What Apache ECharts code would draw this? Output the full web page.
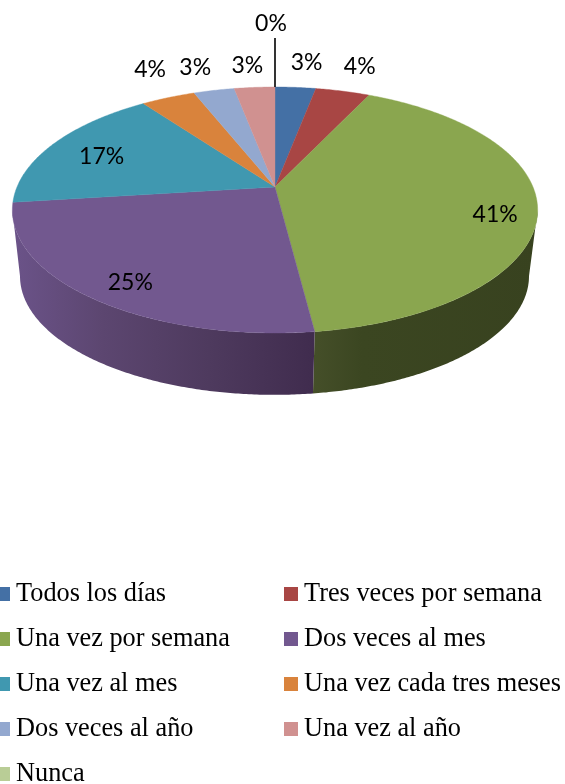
<!DOCTYPE html>
<html>
<head>
<meta charset="utf-8">
<script src="https://cdn.jsdelivr.net/npm/echarts@6/dist/echarts.min.js"></script>
<style>html,body{margin:0;padding:0;background:#fff;width:565px;height:784px;overflow:hidden}#c{width:565px;height:800px}</style>
</head>
<body>
<div id="c"></div>
<script>
// ---- data ----
const categories = ['Todos los días','Tres veces por semana','Una vez por semana','Dos veces al mes','Una vez al mes','Una vez cada tres meses','Dos veces al año','Una vez al año','Nunca'];
const percents = [3,4,41,25,17,4,3,3,0];

// ---- styling ----
const colors = ['#4470a5','#a84644','#8aa64f','#72588f','#4098b0','#d9833c','#93a8cf','#d09190','#b9cd96'];
const wallStops = {
  2:[[0,'#454f29'],[0.22,'#3b4621'],[1,'#38421f']],
  3:[[0,'#6b5389'],[0.3,'#5c4670'],[0.65,'#4e3a5e'],[1,'#402c4e']]
};
const labelRadius = [1.31,1.31,0.85,0.85,0.76,1.32,1.32,1.32,1.85];
const labelNudge = [[6,0],[0,0],[-2,11],[9,4],[-3,3],[10,-5],[-3,2],[-2,4],[-4,0]];
const leaderRadius = 1.64;

// ---- perspective model of the disc: unit circle -> screen ----
const topPlane = {cx:275, cy:187, A:258, a:118.7, c:0.187};
const basePlane = {cx:274.5, cy:254, A:250, a:114.5, c:0.187};
function project(p, deg, r){
  const t = deg*Math.PI/180, x = r*Math.sin(t), y = r*Math.cos(t), d = 1+p.c*y;
  return [p.cx + p.A*x/d, p.cy - p.a*y/d];
}
const total = percents.reduce((s,v)=>s+v,0);
const angles = []; let run = 0;
percents.forEach(v=>{ angles.push([run/total*360,(run+v)/total*360]); run+=v; });
function arc(p, a0, a1){
  const pts=[], n=Math.max(2,Math.ceil((a1-a0)*2));
  for(let i=0;i<=n;i++) pts.push(project(p,a0+(a1-a0)*i/n,1));
  return pts;
}
// wall is visible only between the disc's two silhouette tangents
const tangent = Math.acos(-topPlane.c)*180/Math.PI;
const wallFrom = tangent, wallTo = 360-tangent;

const wallSeries = {
  type:'custom', coordinateSystem:'none', silent:true, z:1, name:'_walls',
  data:percents.map((v,i)=>i),
  renderItem(params, api){
    const i = api.value(0), a0=Math.max(angles[i][0],wallFrom), a1=Math.min(angles[i][1],wallTo);
    if(a1<=a0) return null;
    const stops = (wallStops[i]||[[0,colors[i]],[1,colors[i]]]).map(s=>({offset:s[0],color:s[1]}));
    const top = arc(topPlane,a0,a1), base = arc(basePlane,a0,a1).reverse();
    return {type:'polygon', shape:{points:top.concat(base)},
      style:{fill:new echarts.graphic.LinearGradient(0,0,1,0,stops), stroke:null}};
  }
};
const sliceSeries = categories.map((name,i)=>({
  type:'custom', coordinateSystem:'none', silent:true, z:2, name,
  itemStyle:{color:colors[i]},
  data:[percents[i]],
  renderItem(){
    if(percents[i]===0) return null;
    const pts=[[topPlane.cx,topPlane.cy]].concat(arc(topPlane,angles[i][0],angles[i][1]));
    return {type:'polygon', shape:{points:pts}, style:{fill:colors[i], stroke:colors[i], lineWidth:0.4}};
  }
}));
const labelSeries = {
  type:'custom', coordinateSystem:'none', silent:true, z:3, name:'_labels',
  data:percents.map((v,i)=>i),
  renderItem(params, api){
    const i=api.value(0), mid=(angles[i][0]+angles[i][1])/2;
    const p=project(topPlane,mid,labelRadius[i]);
    const children=[{type:'text', style:{text:percents[i]+'%', x:p[0]+labelNudge[i][0], y:p[1]+labelNudge[i][1],
      align:'center', verticalAlign:'middle', fontFamily:'Lato', fontSize:23, fill:'#000'}}];
    if(percents[i]===0){
      const s=project(topPlane,mid,1), e=project(topPlane,mid,leaderRadius);
      children.push({type:'line', shape:{x1:s[0],y1:s[1],x2:e[0],y2:e[1]}, style:{stroke:'#000',lineWidth:1.6}});
    }
    return {type:'group', children};
  }
};
const legendBase = {
  orient:'vertical', top:581, padding:0, itemWidth:14, itemHeight:14, itemGap:19,
  icon:'rect', selectedMode:false,
  textStyle:{fontFamily:'Liberation Serif', fontSize:26.3, color:'#000', lineHeight:26, padding:[0,0,0,1]}
};
const chart = echarts.init(document.getElementById('c'), null, {renderer:'canvas'});
chart.setOption({
  animation:false,
  backgroundColor:'#fff',
  color:colors,
  legend:[
    Object.assign({left:-4, data:categories.filter((c,i)=>i%2===0)}, legendBase),
    Object.assign({left:284, data:categories.filter((c,i)=>i%2===1)}, legendBase)
  ],
  series:[wallSeries].concat(sliceSeries,[labelSeries])
});
</script>
</body>
</html>
